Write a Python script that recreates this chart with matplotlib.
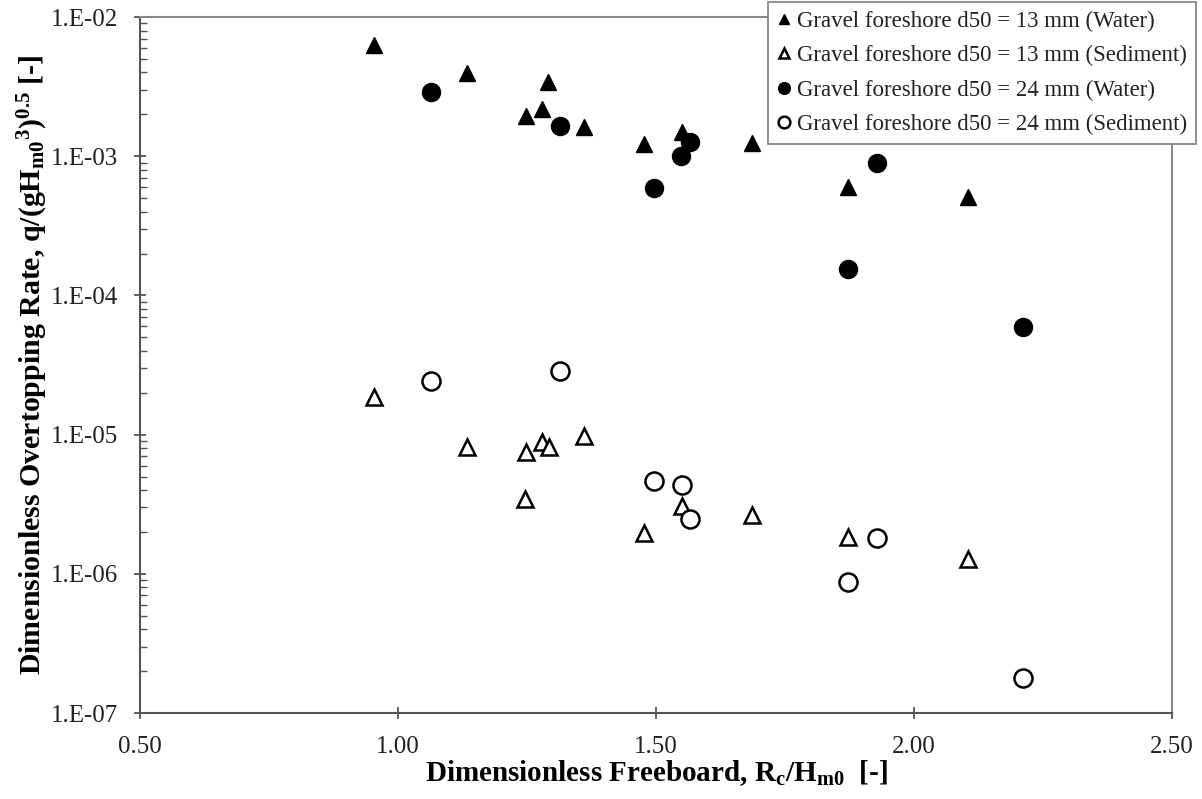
import numpy as np
import matplotlib
matplotlib.use('Agg')
import matplotlib.pyplot as plt
from matplotlib.ticker import FixedLocator, FuncFormatter, LogLocator, NullFormatter

plt.rcParams['font.family'] = ['Liberation Serif', 'DejaVu Serif']
plt.rcParams['mathtext.default'] = 'regular'

# d50 = 13 mm, water overtopping
x13_water = [0.953, 1.134, 1.248, 1.279, 1.291, 1.360, 1.477, 1.550, 1.686, 1.872, 2.105]
q13_water = [6.3e-3, 3.96e-3, 1.95e-3, 2.18e-3, 3.41e-3, 1.62e-3, 1.22e-3, 1.49e-3, 1.24e-3, 6.0e-4, 5.1e-4]

# d50 = 13 mm, sediment overtopping
x13_sed = [0.953, 1.134, 1.246, 1.248, 1.279, 1.293, 1.360, 1.477, 1.550, 1.686, 1.872, 2.105]
q13_sed = [1.86e-5, 8.1e-6, 3.44e-6, 7.5e-6, 8.85e-6, 8.1e-6, 9.8e-6, 1.96e-6, 3.07e-6, 2.64e-6, 1.84e-6, 1.28e-6]

# d50 = 24 mm, water overtopping
x24_water = [1.064, 1.314, 1.496, 1.548, 1.566, 1.872, 1.928, 2.211]
q24_water = [2.89e-3, 1.65e-3, 5.9e-4, 1.0e-3, 1.26e-3, 1.55e-4, 8.9e-4, 5.9e-5]

# d50 = 24 mm, sediment overtopping
x24_sed = [1.064, 1.314, 1.496, 1.550, 1.566, 1.872, 1.928, 2.211]
q24_sed = [2.43e-5, 2.86e-5, 4.64e-6, 4.35e-6, 2.48e-6, 8.7e-7, 1.81e-6, 1.78e-7]

labels = ['Gravel foreshore d50 = 13 mm (Water)',
          'Gravel foreshore d50 = 13 mm (Sediment)',
          'Gravel foreshore d50 = 24 mm (Water)',
          'Gravel foreshore d50 = 24 mm (Sediment)']

x_ticks = [0.5, 1.0, 1.5, 2.0, 2.5]

fig = plt.figure(figsize=(12.02, 7.99), dpi=100)
ax = fig.add_axes([0.1165, 0.1076, 0.975 - 0.1165, 0.9787 - 0.1076])

ax.plot(x13_water, q13_water, '^', ms=12, color='black', mec='black', label=labels[0])
ax.plot(x13_sed, q13_sed, '^', ms=12, mfc='white', mec='black', mew=1.8, label=labels[1])
ax.plot(x24_water, q24_water, 'o', ms=13, color='black', mec='black', label=labels[2])
ax.plot(x24_sed, q24_sed, 'o', ms=13, mfc='white', mec='black', mew=1.8, label=labels[3])

ax.set_yscale('log')
ax.set_xlim(0.5, 2.5)
ax.set_ylim(1e-7, 1e-2)
ax.xaxis.set_major_locator(FixedLocator(x_ticks))
ax.xaxis.set_major_formatter(FuncFormatter(lambda v, p: f'{v:.2f}'))
ax.yaxis.set_major_locator(LogLocator(base=10, numticks=10))
ax.yaxis.set_major_formatter(FuncFormatter(lambda v, p: '1.E-%02d' % round(-np.log10(v))))
ax.yaxis.set_minor_locator(LogLocator(base=10, subs=np.arange(2, 10), numticks=10))
ax.yaxis.set_minor_formatter(NullFormatter())

for s in ax.spines.values():
    s.set_color('#555555')
    s.set_linewidth(1.5)
ax.spines['top'].set_color('#888888')
ax.spines['right'].set_color('#888888')

ax.tick_params(axis='both', which='major', direction='inout', length=9, width=1.3,
               color='#555555', labelsize=18, labelcolor='#222222')
ax.tick_params(axis='x', which='major', pad=12)
ax.tick_params(axis='y', which='major', pad=11)
ax.tick_params(axis='y', which='minor', direction='in', length=5, width=1.0, color='#555555')

ax.set_xlabel(r'Dimensionless Freeboard, R$_{c}$/H$_{m0}$  [-]', fontsize=21,
              fontweight='bold', labelpad=0)
ax.set_ylabel(r'Dimensionless Overtopping Rate, q/(gH$_{m0}$$^{3}$)$^{0.5}$ [-]', fontsize=21.5,
              fontweight='bold', labelpad=1)

leg = fig.legend(loc='upper right', bbox_to_anchor=(0.995, 0.998), bbox_transform=fig.transFigure,
                 fontsize=16.5, markerscale=0.65, handlelength=0.6, handletextpad=0.25,
                 borderpad=0.4, labelspacing=0.58, fancybox=False, framealpha=1,
                 edgecolor='#888888', borderaxespad=0)
leg.get_frame().set_linewidth(1.3)
for t in leg.get_texts():
    t.set_color('#222222')

fig.savefig('out.png', dpi=100)
